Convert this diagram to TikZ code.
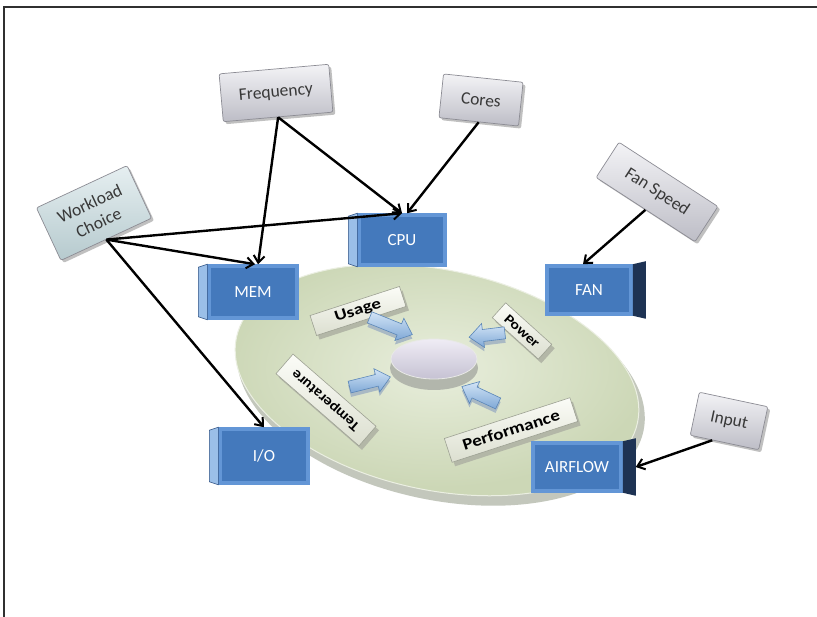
\documentclass[tikz,border=0pt]{standalone}
\usepackage{fontspec}
\usepackage{graphicx}
\setmainfont{Carlito}
\usetikzlibrary{arrows.meta,shadows,calc}
\definecolor{framec}{HTML}{303030}
\definecolor{boxblue}{HTML}{4479BC}
\definecolor{bluebevel}{HTML}{6396D6}
\definecolor{blueline}{HTML}{2B4F82}
\definecolor{bluelight}{HTML}{9BBFE8}
\definecolor{bluedark}{HTML}{1E3354}
\definecolor{gtop}{HTML}{F3F3F6}
\definecolor{gbot}{HTML}{BDBDC6}
\definecolor{gborder}{HTML}{8C8C94}
\definecolor{gtext}{HTML}{383838}
\definecolor{wltop}{HTML}{E6EFF1}
\definecolor{wlbot}{HTML}{B6CACE}
\definecolor{discrim}{HTML}{C3C7BC}
\definecolor{disclight}{HTML}{E8EEDC}
\definecolor{discdark}{HTML}{CCD7B6}
\definecolor{bartop}{HTML}{FBFCF7}
\definecolor{barbot}{HTML}{DCDFD0}
\definecolor{barborder}{HTML}{9DA193}
\definecolor{barside}{HTML}{B3B7A7}
\definecolor{atop}{HTML}{D2E4F6}
\definecolor{abot}{HTML}{7FA8D6}
\definecolor{aborder}{HTML}{5A86B8}
\definecolor{aside}{HTML}{A9B9C4}
\definecolor{hubtop}{HTML}{EFECF5}
\definecolor{hubbot}{HTML}{C6C2D3}
\definecolor{hubrim}{HTML}{B2B6AC}
\newcommand{\blockarr}[4]{%
  \begin{scope}[shift={(#1,#2-4)},rotate=#3]
    \fill[aside] ({-#4/2},-6) -- ({#4/2-14},-6) -- ({#4/2-14},-12) -- ({#4/2},0) -- ({#4/2-14},12) -- ({#4/2-14},6) -- ({-#4/2},6) -- cycle;
  \end{scope}
  \begin{scope}[shift={(#1,#2)},rotate=#3]
    \shade[top color=atop, bottom color=abot, draw=aborder, line width=0.6pt]
      ({-#4/2},-6) -- ({#4/2-14},-6) -- ({#4/2-14},-12) -- ({#4/2},0) -- ({#4/2-14},12) -- ({#4/2-14},6) -- ({-#4/2},6) -- cycle;
  \end{scope}}
\begin{document}
\begin{tikzpicture}[x=1pt,y=1pt,
  conn/.style={line width=2.4pt, draw=black, -{Straight Barb[length=7pt,width=11pt,line width=2pt]}},
  bluebox/.style={draw=bluebevel, line width=3.5pt, fill=boxblue, text=white,
    font=\fontsize{17}{20}\selectfont, inner sep=2pt},
  graybox/.style={draw=gborder, line width=0.7pt, rounded corners=2pt, top color=gtop, bottom color=gbot,
    text=gtext, font=\fontsize{17.5}{21}\selectfont, inner sep=2pt, align=center,
    drop shadow={shadow xshift=2.5pt, shadow yshift=-2.5pt, fill=gray!70, opacity=0.7}},
  wlbox/.style={top color=wltop, bottom color=wlbot},
  bar/.style={draw=barborder, line width=0.6pt, top color=bartop, bottom color=barbot, text=black,
    inner sep=1pt,
    drop shadow={shadow xshift=3pt, shadow yshift=-4pt, fill=barside, opacity=1}}
]
\useasboundingbox (0,0) rectangle (817,-617);
\fill[white] (0,0) rectangle (817,-617);
\draw[framec, line width=2pt] (4,-617) -- (4,-7) -- (817,-7);

% disc
\fill[discrim, rotate around={-12:(441,-388)}] (441,-388) ellipse [x radius=207pt, y radius=112pt];
\shade[inner color=disclight, outer color=discdark, draw=white!60!discdark, line width=1pt,
  rotate around={-12:(437,-380)}] (437,-380) ellipse [x radius=205pt, y radius=110pt];

% hub
\fill[hubrim] (434,-368) ellipse [x radius=44pt, y radius=22pt];
\shade[top color=hubtop, bottom color=hubbot, draw=white!70!hubrim, line width=0.8pt]
  (434,-359) ellipse [x radius=43pt, y radius=20pt];

% bars
\node[bar, minimum width=94pt, minimum height=21pt, rotate=18,
  font=\bfseries\fontsize{19}{19}\selectfont] (usage) at (358,-311) {\scalebox{1}[0.8]{Usage}};
\node[bar, minimum width=62pt, minimum height=20pt, rotate=-42,
  font=\bfseries\fontsize{16}{16}\selectfont] (power) at (522,-331) {\scalebox{1}[0.85]{Power}};
\node[bar, minimum width=110pt, minimum height=26pt, rotate=139,
  font=\bfseries\fontsize{16}{16}\selectfont] (temp) at (326,-400) {\scalebox{1}[0.9]{Temperature}};
\node[bar, minimum width=132pt, minimum height=25pt, rotate=18,
  font=\bfseries\fontsize{19}{19}\selectfont] (perf) at (511,-430) {\scalebox{1}[0.85]{Performance}};

% inner arrows
\blockarr{391}{-326}{-22}{46}
\blockarr{487}{-335}{187}{36}
\blockarr{370}{-382}{14}{42}
\blockarr{480}{-395}{155}{40}

% blue boxes
\node[bluebox, minimum width=86pt, minimum height=50pt] (cpu) at (402,-240) {CPU};
\node[bluebox, minimum width=88pt, minimum height=52pt] (mem) at (253,-292) {MEM};
\node[bluebox, minimum width=88pt, minimum height=54pt] (io) at (264,-456) {I/O};
\node[bluebox, minimum width=84pt, minimum height=48pt] (fan) at (589,-290) {FAN};
\node[bluebox, minimum width=88pt, minimum height=48pt] (air) at (577,-467) {AIRFLOW};
\foreach \b in {cpu,mem,io}{
  \fill[bluelight, draw=blueline, line width=0.5pt] (\b.north west) -- ([xshift=-9pt,yshift=-3pt]\b.north west)
    -- ([xshift=-9pt,yshift=3pt]\b.south west) -- (\b.south west) -- cycle;
}
\foreach \b in {fan,air}{
  \fill[bluedark] (\b.north east) -- ([xshift=13pt,yshift=3pt]\b.north east)
    -- ([xshift=13pt,yshift=-3pt]\b.south east) -- (\b.south east) -- cycle;
}
\coordinate (airR) at ([xshift=13pt]air.east);

% gray boxes
\node[graybox, minimum width=110pt, minimum height=48pt, rotate=5] (freq) at (276,-93) {Frequency};
\node[graybox, minimum width=80pt, minimum height=44pt, rotate=-6] (cores) at (481,-100) {Cores};
\node[graybox, wlbox, minimum width=100pt, minimum height=58pt, rotate=25] (wl) at (94,-213) {Workload\\Choice};
\node[graybox, minimum width=118pt, minimum height=42pt, rotate=-33] (fs) at (657,-192) {Fan Speed};
\node[graybox, minimum width=70pt, minimum height=44pt, rotate=-12] (inp) at (729,-421) {Input};

% connectors
\draw[conn] (freq.south) -- ([xshift=5pt]mem.north);
\draw[conn] (freq.south) -- (cpu.north);
\draw[conn] (cores.south) -- ([xshift=5pt]cpu.north);
\draw[conn] (wl.south) -- (cpu.north);
\draw[conn] (wl.south) -- ([xshift=2pt]mem.north);
\draw[conn] (wl.south) -- (io.north);
\draw[conn] (fs.south) -- ([xshift=-6pt]fan.north);
\draw[conn] ($(inp.south)!0.35!(inp.south west)$) -- (airR);
\end{tikzpicture}
\end{document}
